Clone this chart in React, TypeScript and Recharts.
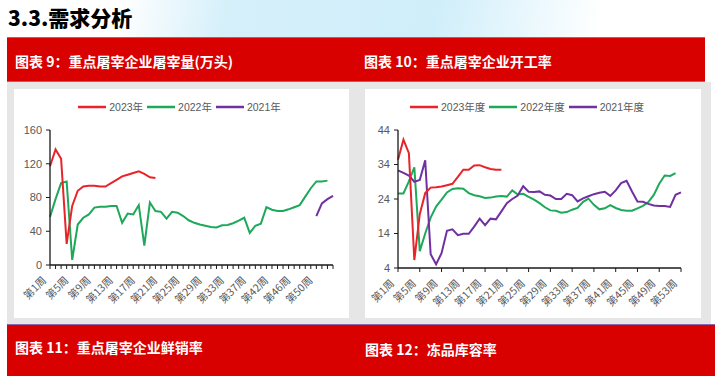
import React from 'react';
import { LineChart, Line, XAxis, YAxis, Legend } from 'recharts';

// ---------- Chart 9: slaughter volume (10k head) ----------
const weeksLeft = [
  '第1周', '第2周', '第3周', '第4周', '第5周', '第6周', '第7周', '第8周', '第9周', '第10周',
  '第11周', '第12周', '第13周', '第14周', '第15周', '第16周', '第17周', '第18周', '第19周', '第20周',
  '第21周', '第22周', '第23周', '第24周', '第25周', '第26周', '第27周', '第28周', '第29周', '第30周',
  '第31周', '第32周', '第33周', '第34周', '第35周', '第36周', '第37周', '第38周', '第39周', '第40周',
  '第42周', '第43周', '第44周', '第45周', '第46周', '第47周', '第48周', '第49周', '第50周', '第51周',
  '第52周', '第53周',
];
const slaughter2023 = [117, 137, 126, 25, 70, 88, 93, 94, 94, 93, 93, 97, 101, 105, 107, 109, 111, 108, 104, 103];
const slaughter2022 = [
  57, 78, 97, 99, 6, 48, 56, 60, 68, 69, 69, 70, 70, 50, 61, 60, 71, 23, 74, 64,
  63, 55, 63, 62, 58, 53, 50, 48, 46.5, 45, 44.5, 47, 47.5, 49.5, 52.5, 56, 38, 46.5, 49, 68.5,
  65.5, 64, 64, 66, 68.5, 71, 81, 91, 99, 99, 100,
];
const slaughter2021 = [58, 73, 78, 82]; // weeks 50-53 (index 48-51)
const slaughter2021Start = 48;
const leftTicks = [0, 40, 80, 120, 160];

// ---------- Chart 10: operating rate (%) ----------
const weeksRight = [
  '第1周', '第2周', '第3周', '第4周', '第5周', '第6周', '第7周', '第8周', '第9周', '第10周',
  '第11周', '第12周', '第13周', '第14周', '第15周', '第16周', '第17周', '第18周', '第19周', '第20周',
  '第21周', '第22周', '第23周', '第24周', '第25周', '第26周', '第27周', '第28周', '第29周', '第30周',
  '第31周', '第32周', '第33周', '第34周', '第35周', '第36周', '第37周', '第38周', '第39周', '第40周',
  '第41周', '第42周', '第43周', '第44周', '第45周', '第46周', '第47周', '第48周', '第49周', '第50周',
  '第51周', '第52周', '第53周',
];
const rate2023 = [35.4, 41.2, 37.3, 6.3, 19.6, 25.7, 27.3, 27.4, 27.6, 28, 28.4, 30.4, 32.5, 32.5, 33.7, 33.8, 33.2, 32.7, 32.5, 32.5];
const rate2022 = [
  25.6, 25.6, 29.1, 33.2, 8.9, 14, 18.6, 21.8, 23.8, 25.9, 26.9, 27.1, 27, 25.7, 25.1, 24.8, 24.3, 24.4, 24.7, 24.9,
  24.7, 26.5, 25.3, 25.5, 24.6, 23.8, 22.8, 21.6, 20.7, 20.6, 20, 20.2, 20.9, 21.4, 23.2, 24.1, 22.3, 21, 21.3, 22.2,
  21.4, 20.8, 20.6, 20.6, 21.3, 22, 23.1, 25.2, 28.4, 30.8, 30.7, 31.5,
];
const rate2021 = [
  32.3, 31.6, 30.8, 29, 29.5, 35.2, 8, 5.1, 8.3, 14.8, 15.2, 13.5, 13.9, 13.9, 16, 18.3, 16.4, 18.3, 18.1, 20.4,
  22.8, 24, 25, 27.7, 26.1, 26, 26.2, 25.2, 25, 24, 24, 25.5, 25.1, 23.3, 24.2, 24.8, 25.4, 25.8, 26.1, 24.9,
  26.5, 28.6, 29.3, 26.2, 23.3, 23.2, 22.6, 22.1, 22, 22, 21.7, 25.2, 25.9,
];
const rightTicks = [4, 14, 24, 34, 44];

const RED = '#e8232a';
const GREEN = '#1ea85a';
const PURPLE = '#7030a0';
const AXIS = '#1a1a1a';
const TXT = '#595959';
const FONT = '"Liberation Sans", "Noto Sans CJK SC", sans-serif';
const CJK = '"Noto Sans CJK SC", "Liberation Sans", sans-serif';

const leftData = weeksLeft.map((w, i) => ({
  week: w,
  y2023: i < slaughter2023.length ? slaughter2023[i] : null,
  y2022: i < slaughter2022.length ? slaughter2022[i] : null,
  y2021: i >= slaughter2021Start ? slaughter2021[i - slaughter2021Start] : null,
}));

const rightData = weeksRight.map((w, i) => ({
  week: w,
  y2023: i < rate2023.length ? rate2023[i] : null,
  y2022: i < rate2022.length ? rate2022[i] : null,
  y2021: i < rate2021.length ? rate2021[i] : null,
}));

function makeXTick(step: number) {
  return (props: any) => {
    const { x, y, payload, index } = props;
    if (step > 1 && index % step !== 0) return <g />;
    return (
      <g transform={`translate(${x - 3},${y + 10})`}>
        <text
          x={0}
          y={0}
          textAnchor="end"
          transform="rotate(-45)"
          fill={TXT}
          fontSize={10.5}
          fontFamily={CJK}
        >
          {payload.value}
        </text>
      </g>
    );
  };
}

function makeLegend(items: { label: string; color: string }[]) {
  return () => (
    <div style={{ display: 'flex', justifyContent: 'center', alignItems: 'center', width: '100%' }}>
      {items.map((it) => (
        <div key={it.label} style={{ display: 'flex', alignItems: 'center', marginRight: 4 }}>
          <svg width={28} height={6} style={{ marginRight: 3 }}>
            <line x1={0} y1={3} x2={28} y2={3} stroke={it.color} strokeWidth={2.5} />
          </svg>
          <span style={{ fontSize: 10.5, color: TXT, fontFamily: FONT, lineHeight: '14px' }}>{it.label}</span>
        </div>
      ))}
    </div>
  );
}

const headerText: React.CSSProperties = {
  position: 'absolute',
  color: '#ffffff',
  fontWeight: 700,
  fontSize: 14,
  lineHeight: '14px',
  fontFamily: CJK,
  whiteSpace: 'nowrap',
};

export default function App() {
  return (
    <div style={{ position: 'absolute', left: 0, top: 0, width: 720, height: 376, background: '#ffffff', overflow: 'hidden' }}>
      {/* top decorative background */}
      <div
        style={{
          position: 'absolute', left: 120, top: 0, width: 480, height: 37,
          background: 'linear-gradient(100deg, rgba(255,255,255,0) 0%, #d6f0fa 22%, #cfeefa 65%, rgba(255,255,255,0) 100%)',
        }}
      />
      <div
        style={{
          position: 'absolute', left: 8, top: 7, fontSize: 21, lineHeight: '21px', fontWeight: 900,
          fontFamily: CJK, color: '#000000', whiteSpace: 'nowrap',
        }}
      >
        3.3.需求分析
      </div>

      {/* top red header */}
      <div
        style={{
          position: 'absolute', left: 7, top: 37, width: 698, height: 43, background: '#d90000',
          borderTop: '1px solid #8a67b0', borderBottom: '1px solid #8a67b0',
        }}
      />
      <div style={{ ...headerText, left: 15, top: 54 }}>图表 9：重点屠宰企业屠宰量(万头)</div>
      <div style={{ ...headerText, left: 364, top: 54 }}>图表 10：重点屠宰企业开工率</div>

      {/* gray area */}
      <div style={{ position: 'absolute', left: 7, top: 82, width: 704, height: 242, background: '#e6e6e6' }} />

      {/* left panel */}
      <div style={{ position: 'absolute', left: 14, top: 89, width: 335, height: 229, background: '#ffffff' }}>
        <LineChart width={335} height={229} data={leftData} margin={{ top: 41, right: 16, bottom: 3, left: 0 }}>
          <XAxis
            dataKey="week"
            interval={0}
            tick={makeXTick(4)}
            tickSize={4}
            height={50}
            axisLine={{ stroke: AXIS, strokeWidth: 1.3 }}
            tickLine={{ stroke: AXIS }}
          />
          <YAxis
            domain={[0, 160]}
            ticks={leftTicks}
            width={36}
            tickSize={4}
            tickMargin={4}
            axisLine={{ stroke: AXIS, strokeWidth: 1.3 }}
            tickLine={{ stroke: AXIS }}
            tick={{ fill: TXT, fontSize: 11, fontFamily: FONT }}
          />
          <Legend
            verticalAlign="middle"
            align="center"
            wrapperStyle={{ top: 11, left: 0, width: 335 }}
            content={makeLegend([
              { label: '2023年', color: RED },
              { label: '2022年', color: GREEN },
              { label: '2021年', color: PURPLE },
            ])}
          />
          <Line dataKey="y2022" name="2022年" stroke={GREEN} strokeWidth={2} dot={false} isAnimationActive={false} />
          <Line dataKey="y2021" name="2021年" stroke={PURPLE} strokeWidth={2} dot={false} isAnimationActive={false} />
          <Line dataKey="y2023" name="2023年" stroke={RED} strokeWidth={2} dot={false} isAnimationActive={false} />
        </LineChart>
      </div>

      {/* right panel */}
      <div style={{ position: 'absolute', left: 365, top: 89, width: 336, height: 229, background: '#ffffff' }}>
        <LineChart width={336} height={229} data={rightData} margin={{ top: 41, right: 20, bottom: 3, left: 0 }}>
          <XAxis
            dataKey="week"
            interval={3}
            tick={makeXTick(1)}
            tickSize={4}
            height={47}
            axisLine={{ stroke: AXIS, strokeWidth: 1.3 }}
            tickLine={{ stroke: AXIS }}
          />
          <YAxis
            domain={[4, 44]}
            ticks={rightTicks}
            width={33}
            tickSize={4}
            tickMargin={4}
            axisLine={{ stroke: AXIS, strokeWidth: 1.3 }}
            tickLine={{ stroke: AXIS }}
            tick={{ fill: TXT, fontSize: 11, fontFamily: FONT }}
          />
          <Legend
            verticalAlign="middle"
            align="center"
            wrapperStyle={{ top: 11, left: 0, width: 328 }}
            content={makeLegend([
              { label: '2023年度', color: RED },
              { label: '2022年度', color: GREEN },
              { label: '2021年度', color: PURPLE },
            ])}
          />
          <Line dataKey="y2022" name="2022年度" stroke={GREEN} strokeWidth={2} dot={false} isAnimationActive={false} />
          <Line dataKey="y2021" name="2021年度" stroke={PURPLE} strokeWidth={2} dot={false} isAnimationActive={false} />
          <Line dataKey="y2023" name="2023年度" stroke={RED} strokeWidth={2} dot={false} isAnimationActive={false} />
        </LineChart>
      </div>

      {/* bottom red header */}
      <div
        style={{
          position: 'absolute', left: 7, top: 324, width: 708, height: 52, background: '#d90000',
          borderTop: '1px solid #8a67b0',
        }}
      />
      <div style={{ ...headerText, left: 15, top: 340 }}>图表 11：重点屠宰企业鲜销率</div>
      <div style={{ ...headerText, left: 365, top: 342 }}>图表 12：冻品库容率</div>
    </div>
  );
}
